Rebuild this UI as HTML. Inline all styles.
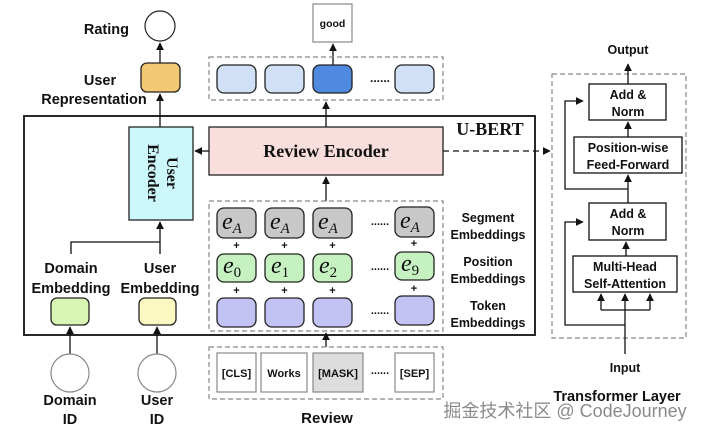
<!DOCTYPE html>
<html><head><meta charset="utf-8"><style>
body{margin:0;background:#fff}
svg{display:block}
text{font-weight:bold;fill:#111}
</style></head><body>
<svg width="719" height="436" viewBox="0 0 719 436" xmlns="http://www.w3.org/2000/svg" style="font-family:'Liberation Sans',Arial,sans-serif">
<defs>
<marker id="a" viewBox="0 0 10 10" refX="9" refY="5" markerWidth="6" markerHeight="6" orient="auto-start-reverse"><path d="M0,0L10,5L0,10z" fill="#111"/></marker>
</defs>
<rect x="24" y="116" width="511" height="219" fill="none" stroke="#111" stroke-width="1.8"/>
<text x="490" y="135" font-size="18" text-anchor="middle" style="font-family:'Liberation Serif',serif">U-BERT</text>

<circle cx="160" cy="26" r="15" fill="#fff" stroke="#222" stroke-width="1.2"/>
<text x="129" y="34" font-size="14.5" text-anchor="end">Rating</text>
<rect x="141" y="63" width="39" height="29" rx="6" fill="#f5c876" stroke="#222" stroke-width="1.3"/>
<text x="100" y="85" font-size="14.5" text-anchor="middle">User</text>
<text x="94" y="104" font-size="14.5" text-anchor="middle">Representation</text>
<g stroke="#111" stroke-width="1.3" fill="none">
<line x1="160" y1="63" x2="160" y2="43" marker-end="url(#a)"/>
<line x1="160" y1="127" x2="160" y2="94" marker-end="url(#a)"/>
</g>

<rect x="129" y="127" width="64" height="93" fill="#cdf8fb" stroke="#222" stroke-width="1.3"/>
<text transform="translate(167,173) rotate(90)" font-size="16" text-anchor="middle" style="font-family:'Liberation Serif',serif">User</text>
<text transform="translate(148,173) rotate(90)" font-size="16" text-anchor="middle" style="font-family:'Liberation Serif',serif">Encoder</text>

<rect x="209" y="127" width="234" height="48" fill="#f9dede" stroke="#222" stroke-width="1.3"/>
<text x="326" y="157" font-size="18" text-anchor="middle" style="font-family:'Liberation Serif',serif">Review Encoder</text>
<g stroke="#111" stroke-width="1.3" fill="none">
<line x1="209" y1="151" x2="195" y2="151" marker-end="url(#a)"/>
<line x1="326" y1="127" x2="326" y2="102" marker-end="url(#a)"/>
<line x1="326" y1="201" x2="326" y2="177" marker-end="url(#a)"/>
<line x1="333" y1="65" x2="333" y2="44" marker-end="url(#a)"/>
<line x1="443" y1="151" x2="550" y2="151" stroke-dasharray="6,4" marker-end="url(#a)"/>
<line x1="326" y1="347" x2="326" y2="333" marker-end="url(#a)"/>
</g>

<rect x="313" y="4" width="39" height="38" fill="#fff" stroke="#888" stroke-width="1.2"/>
<text x="332.5" y="27" font-size="10.5" text-anchor="middle">good</text>
<rect x="209" y="57" width="234" height="43" fill="none" stroke="#888" stroke-width="1.2" stroke-dasharray="5,3"/>
<g stroke="#222" stroke-width="1.3">
<rect x="217" y="65" width="39" height="28" rx="7" fill="#cfe0f7"/>
<rect x="265" y="65" width="39" height="28" rx="7" fill="#cfe0f7"/>
<rect x="313" y="65" width="39" height="28" rx="7" fill="#4f8ae0"/>
<rect x="395" y="65" width="39" height="28" rx="7" fill="#cfe0f7"/>
</g>
<text x="380" y="82" font-size="12" text-anchor="middle">......</text>

<rect x="209" y="201" width="234" height="130" fill="none" stroke="#888" stroke-width="1.2" stroke-dasharray="5,3"/>
<g stroke="#222" stroke-width="1.3">
<rect x="217" y="208" width="39" height="30" rx="7" fill="#c8c8c8"/>
<rect x="265" y="208" width="39" height="30" rx="7" fill="#c8c8c8"/>
<rect x="313" y="208" width="39" height="30" rx="7" fill="#c8c8c8"/>
<rect x="395" y="207" width="39" height="30" rx="7" fill="#c8c8c8"/>
<rect x="217" y="254" width="39" height="28" rx="7" fill="#c6f1c0"/>
<rect x="265" y="254" width="39" height="28" rx="7" fill="#c6f1c0"/>
<rect x="313" y="254" width="39" height="28" rx="7" fill="#c6f1c0"/>
<rect x="395" y="252" width="39" height="28" rx="7" fill="#c6f1c0"/>
<rect x="217" y="298" width="39" height="29" rx="7" fill="#c3c2f5"/>
<rect x="265" y="298" width="39" height="29" rx="7" fill="#c3c2f5"/>
<rect x="313" y="298" width="39" height="29" rx="7" fill="#c3c2f5"/>
<rect x="395" y="296" width="39" height="29" rx="7" fill="#c3c2f5"/>
</g>
<g style="font-family:'Liberation Serif',serif;font-style:italic" font-size="24">
<text x="222" y="229" style="font-weight:normal">e<tspan font-size="15" dy="4">A</tspan></text>
<text x="270" y="229" style="font-weight:normal">e<tspan font-size="15" dy="4">A</tspan></text>
<text x="318" y="229" style="font-weight:normal">e<tspan font-size="15" dy="4">A</tspan></text>
<text x="400" y="228" style="font-weight:normal">e<tspan font-size="15" dy="4">A</tspan></text>
<text x="223" y="273" style="font-weight:normal">e<tspan font-size="15" dy="4" style="font-style:normal">0</tspan></text>
<text x="271" y="273" style="font-weight:normal">e<tspan font-size="15" dy="4" style="font-style:normal">1</tspan></text>
<text x="319" y="273" style="font-weight:normal">e<tspan font-size="15" dy="4" style="font-style:normal">2</tspan></text>
<text x="401" y="271" style="font-weight:normal">e<tspan font-size="15" dy="4" style="font-style:normal">9</tspan></text>
</g>
<g font-size="11" text-anchor="middle">
<text x="236.5" y="249">+</text><text x="284.5" y="249">+</text><text x="332.5" y="249">+</text><text x="414" y="247">+</text>
<text x="236.5" y="294">+</text><text x="284.5" y="294">+</text><text x="332.5" y="294">+</text><text x="414" y="292">+</text>
<text x="380" y="225">......</text><text x="380" y="270">......</text><text x="380" y="314">......</text>
</g>
<g font-size="12.5" text-anchor="middle">
<text x="488" y="222">Segment</text><text x="488" y="239">Embeddings</text>
<text x="488" y="266">Position</text><text x="488" y="283">Embeddings</text>
<text x="488" y="310">Token</text><text x="488" y="327">Embeddings</text>
</g>

<rect x="209" y="347" width="234" height="52" fill="none" stroke="#888" stroke-width="1.2" stroke-dasharray="5,3"/>
<g stroke="#888" stroke-width="1.2">
<rect x="217" y="353" width="39" height="39" fill="#fff"/>
<rect x="261" y="353" width="46" height="39" fill="#fff"/>
<rect x="313" y="353" width="50" height="39" fill="#ddd"/>
<rect x="395" y="353" width="39" height="39" fill="#fff"/>
</g>
<g font-size="11" text-anchor="middle">
<text x="236.5" y="377">[CLS]</text>
<text x="284" y="377">Works</text>
<text x="338" y="377">[MASK]</text>
<text x="414.5" y="377">[SEP]</text>
<text x="380" y="374">......</text>
</g>
<text x="327" y="423" font-size="15" text-anchor="middle">Review</text>

<g stroke="#111" stroke-width="1.3" fill="none">
<polyline points="71,254 71,242 160,242"/>
<line x1="160" y1="254" x2="160" y2="222" marker-end="url(#a)"/>
<line x1="70" y1="354" x2="70" y2="327" marker-end="url(#a)"/>
<line x1="157" y1="354" x2="157" y2="327" marker-end="url(#a)"/>
</g>
<g font-size="14.5" text-anchor="middle">
<text x="71" y="273">Domain</text><text x="71" y="293">Embedding</text>
<text x="160" y="273">User</text><text x="160" y="293">Embedding</text>
</g>
<rect x="51" y="298" width="38" height="27" rx="6" fill="#d8f5b4" stroke="#222" stroke-width="1.3"/>
<rect x="139" y="298" width="37" height="27" rx="6" fill="#fbf8c2" stroke="#222" stroke-width="1.3"/>
<circle cx="70" cy="373" r="19" fill="#fff" stroke="#888" stroke-width="1.2"/>
<circle cx="157" cy="373" r="19" fill="#fff" stroke="#888" stroke-width="1.2"/>
<g font-size="14.5" text-anchor="middle">
<text x="70" y="405">Domain</text><text x="70" y="424">ID</text>
<text x="157" y="405">User</text><text x="157" y="424">ID</text>
</g>

<rect x="552" y="74" width="134" height="264" fill="none" stroke="#888" stroke-width="1.2" stroke-dasharray="5,3"/>
<g stroke="#111" stroke-width="1.3" fill="#fff">
<rect x="589" y="84" width="77" height="36"/>
<rect x="574" y="137" width="108" height="36"/>
<rect x="589" y="203" width="77" height="37"/>
<rect x="573" y="256" width="104" height="36"/>
</g>
<g stroke="#111" stroke-width="1.3" fill="none">
<line x1="628" y1="84" x2="628" y2="64" marker-end="url(#a)"/>
<line x1="628" y1="137" x2="628" y2="122" marker-end="url(#a)"/>
<line x1="628" y1="203" x2="628" y2="175" marker-end="url(#a)"/>
<line x1="626" y1="256" x2="626" y2="242" marker-end="url(#a)"/>
<polyline points="628,189 565,189 565,101 583,101" marker-end="url(#a)"/>
<line x1="625" y1="354" x2="625" y2="294" marker-end="url(#a)"/>
<polyline points="601,310 601,294" marker-end="url(#a)"/>
<polyline points="650,310 650,294" marker-end="url(#a)"/>
<line x1="601" y1="310" x2="650" y2="310"/>
<polyline points="625,325 565,325 565,222 583,222" marker-end="url(#a)"/>
</g>
<g font-size="12.5" text-anchor="middle">
<text x="628" y="54">Output</text>
<text x="628" y="99">Add &amp;</text><text x="628" y="116">Norm</text>
<text x="628" y="152">Position-wise</text><text x="628" y="169">Feed-Forward</text>
<text x="628" y="218">Add &amp;</text><text x="628" y="235">Norm</text>
<text x="625" y="271">Multi-Head</text><text x="625" y="288">Self-Attention</text>
<text x="625" y="372">Input</text>
</g>
<text x="617" y="401" font-size="14.5" text-anchor="middle">Transformer Layer</text>
<text x="565" y="417" font-size="18" text-anchor="middle" style="font-weight:normal;fill:#8a8a8a;font-family:'Liberation Sans','Noto Sans CJK SC',sans-serif">掘金技术社区 @ CodeJourney</text>
</svg>
</body></html>
